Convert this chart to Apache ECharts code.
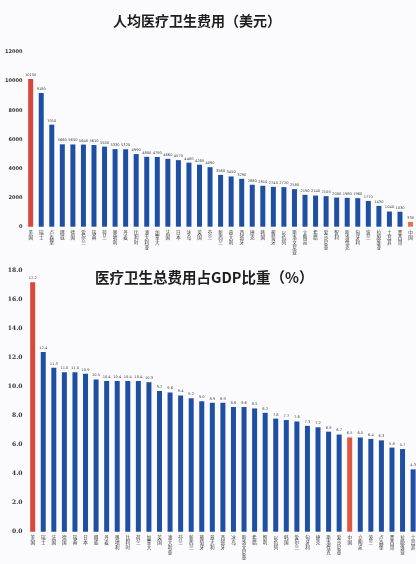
<!DOCTYPE html>
<html>
<head>
<meta charset="utf-8">
<script src="https://cdn.jsdelivr.net/npm/echarts@6/dist/echarts.min.js"></script>
<style>
html,body{margin:0;padding:0;background:#fbfbfd;}
#c{width:416px;height:564px;}
</style>
</head>
<body>
<div id="c"></div>
<script>
// ---- Top chart: per-capita health spending (USD) ----
const topTitle = '人均医疗卫生费用（美元）';
const topCategories = ['美国','瑞士','卢森堡','挪威','德国','爱尔兰','瑞典','荷兰','奥地利','丹麦','比利时','澳大利亚','加拿大','法国','日本','冰岛','英国','芬兰','新西兰','意大利','西班牙','捷克','韩国','葡萄牙','以色列','斯洛文尼亚','立陶宛','希腊','爱沙尼亚','智利','斯洛伐克','匈牙利','波兰','拉脱维亚','土耳其','墨西哥','中国'];
const topValues = [10150,9180,7010,5660,5650,5640,5610,5500,5330,5320,4990,4800,4790,4660,4570,4400,4260,4090,3560,3450,3290,2880,2810,2740,2720,2580,2190,2140,2100,2000,1980,1960,1770,1430,1040,1030,330];
const topTicks = [0,2000,4000,6000,8000,10000,12000];
const topHighlight = {'美国':'#d8473a','中国':'#e8704a'};

// ---- Bottom chart: health spending share of GDP (%) ----
const botTitle = '医疗卫生总费用占GDP比重（%）';
const botCategories = ['美国','瑞士','法国','德国','瑞典','日本','挪威','丹麦','奥地利','比利时','荷兰','加拿大','英国','澳大利亚','芬兰','新西兰','葡萄牙','意大利','西班牙','冰岛','斯洛文尼亚','希腊','智利','以色列','韩国','爱尔兰','匈牙利','捷克','斯洛伐克','爱沙尼亚','中国','立陶宛','波兰','卢森堡','墨西哥','拉脱维亚','土耳其'];
const botValues = [17.2,12.4,11.3,11.0,11.0,10.9,10.5,10.4,10.4,10.4,10.4,10.3,9.7,9.6,9.4,9.2,9.0,8.9,8.9,8.6,8.6,8.5,8.2,7.8,7.7,7.6,7.3,7.2,6.9,6.7,6.5,6.5,6.4,6.3,5.8,5.7,4.3];
const botTicks = [0,2,4,6,8,10,12,14,16,18];
const botHighlight = {'美国':'#d8473a','中国':'#df5540'};

const BLUE = '#1f4fa3';
function vert(value){
  return String(value).split('').join('\n');
}

function barData(cats, vals, hl){
  return vals.map((v,i)=>({value:v, itemStyle:{color: hl[cats[i]] || BLUE}}));
}

const catLabel = {
  interval:0, margin:3, fontSize:4.6, lineHeight:5, color:'#333',
  fontFamily:'Noto Sans CJK SC', verticalAlign:'top', formatter:vert
};

const chart = echarts.init(document.getElementById('c'), null, {renderer:'canvas'});
chart.setOption({
  backgroundColor:'#fbfbfd',
  animation:false,
  graphic:[
    {type:'text', left:113, top:14, style:{text:topTitle, font:'bold 14px "Noto Sans CJK SC"', fill:'#1e1e1e'}},
    {type:'text', left:95, top:270, style:{text:botTitle, font:'bold 14.5px "Noto Sans CJK SC"', fill:'#1e1e1e'}}
  ],
  grid:[
    {left:25.4, top:52, width:390.4, height:174.7, containLabel:false, outerBoundsMode:'none'},
    {left:27.4, top:270.7, width:391, height:261, containLabel:false, outerBoundsMode:'none'}
  ],
  xAxis:[
    {type:'category', gridIndex:0, data:topCategories, axisLine:{show:false}, axisTick:{show:false}, axisLabel:catLabel},
    {type:'category', gridIndex:1, data:botCategories, axisLine:{show:false}, axisTick:{show:false}, axisLabel:catLabel}
  ],
  yAxis:[
    {type:'value', gridIndex:0, min:topTicks[0], max:topTicks[topTicks.length-1], interval:topTicks[1]-topTicks[0],
     axisLine:{show:false}, axisTick:{show:false}, splitLine:{show:false},
     axisLabel:{margin:3, fontSize:5, fontWeight:'bold', color:'#333', fontFamily:'DejaVu Sans', formatter:v=>String(v)}},
    {type:'value', gridIndex:1, min:botTicks[0], max:botTicks[botTicks.length-1], interval:botTicks[1]-botTicks[0],
     axisLine:{show:false}, axisTick:{show:false}, splitLine:{show:false},
     axisLabel:{margin:5, fontSize:6, fontWeight:'bold', color:'#333', fontFamily:'DejaVu Serif', formatter:v=>v.toFixed(1)}}
  ],
  series:[
    {type:'bar', xAxisIndex:0, yAxisIndex:0, barWidth:5, data:barData(topCategories, topValues, topHighlight),
     label:{show:true, position:'top', distance:2, fontSize:3.6, color:'#444', fontFamily:'DejaVu Sans'}},
    {type:'bar', xAxisIndex:1, yAxisIndex:1, barWidth:5, data:barData(botCategories, botValues, botHighlight),
     label:{show:true, position:'top', distance:2, fontSize:3.6, color:'#444', fontFamily:'DejaVu Sans', formatter:p=>p.value.toFixed(1)}}
  ]
});
</script>
</body>
</html>
